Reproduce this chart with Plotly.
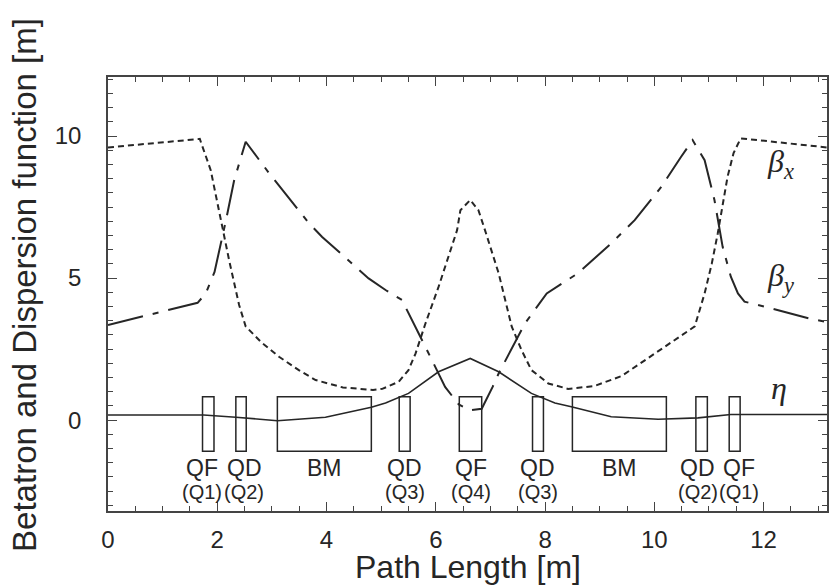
import plotly.graph_objects as go

# Lattice functions along one cell (path length s in metres)
s_beta_x = [0, 1.68, 1.88, 2.07, 2.22, 2.40, 2.52, 2.8, 3.13, 3.5, 3.8, 4.3, 4.85, 5.02,
            5.32, 5.5, 5.63, 5.81, 6.05, 6.39, 6.45, 6.63, 6.78, 6.9, 7.15, 7.39, 7.57,
            7.75, 8.06, 8.42, 8.9, 9.4, 9.88, 10.3, 10.74, 10.92, 11.05, 11.16, 11.34,
            11.45, 11.58, 13.16]
beta_x = [9.6, 9.9, 8.8, 7.0, 5.6, 4.05, 3.3, 2.75, 2.23, 1.75, 1.41, 1.15, 1.06, 1.1,
          1.35, 1.76, 2.35, 3.4, 4.69, 6.69, 7.39, 7.75, 7.39, 6.69, 5.17, 3.29, 2.46,
          1.76, 1.29, 1.1, 1.2, 1.55, 2.17, 2.7, 3.3, 4.46, 5.5, 6.57, 8.57,
          9.4, 9.92, 9.6]

s_beta_y = [0, 1.64, 1.79, 1.95, 2.16, 2.31, 2.52, 2.95, 3.68, 3.92, 4.77, 5.08, 5.38,
            5.63, 5.93, 6.17, 6.42, 6.63, 6.84, 7.04, 7.15, 7.63, 8.03, 8.6, 9.21, 9.64,
            9.94, 10.13, 10.49, 10.7, 10.92, 11.1, 11.25, 11.4, 11.53, 11.65, 12.01,
            12.83, 13.16]
beta_y = [3.35, 4.13, 4.46, 5.22, 7.04, 8.45, 9.8, 8.69, 6.93, 6.45, 4.99, 4.58, 4.23,
          3.29, 2.11, 1.17, 0.55, 0.35, 0.4, 1.17, 1.64, 3.4, 4.46, 5.17, 6.22, 7.04,
          7.75, 8.22, 9.27, 9.86, 9.15, 7.75, 6.1, 5.05, 4.46, 4.17, 4.0,
          3.58, 3.45]

s_eta = [0, 1.75, 2.34, 3.1, 3.98, 4.82, 5.08, 5.5, 6.05, 6.63, 7.15, 7.75, 8.18, 8.48,
         9.21, 10.07, 10.8, 11.4, 13.16]
eta = [0.18, 0.18, 0.1, -0.02, 0.1, 0.45, 0.6, 0.94, 1.7, 2.17, 1.7, 0.94, 0.6, 0.47,
       0.12, 0.03, 0.08, 0.2, 0.2]

# Magnet layout
magnet_type = ["QF", "QD", "BM", "QD", "QF", "QD", "BM", "QD", "QF"]
magnet_name = ["(Q1)", "(Q2)", "", "(Q3)", "(Q4)", "(Q3)", "", "(Q2)", "(Q1)"]
magnet_start = [1.73, 2.34, 3.10, 5.33, 6.43, 7.77, 8.50, 10.76, 11.37]
magnet_end = [1.94, 2.53, 4.82, 5.53, 6.84, 7.97, 10.22, 10.97, 11.57]

# horizontal nudges (px) so neighbouring quadrupole labels do not collide
label_nudge = [-6, 3, 0, 0, 0, 0, 0, -4, 4]

INK = "#262626"
SANS = "Liberation Sans, Arial, sans-serif"
SERIF = "Liberation Serif, Times New Roman, serif"

fig = go.Figure()
fig.add_trace(go.Scatter(x=s_beta_x, y=beta_x, mode="lines",
                         line=dict(color=INK, width=2, dash="6px,4px"),
                         showlegend=False))
fig.add_trace(go.Scatter(x=s_beta_y, y=beta_y, mode="lines",
                         line=dict(color=INK, width=2, dash="36px,10px,6px,10px"),
                         showlegend=False))
fig.add_trace(go.Scatter(x=s_eta, y=eta, mode="lines",
                         line=dict(color=INK, width=1.6),
                         showlegend=False))

# magnet boxes and their labels
box_top, box_bottom = 0.82, -1.1
for a, b, t, n, dx in zip(magnet_start, magnet_end, magnet_type, magnet_name, label_nudge):
    fig.add_shape(type="rect", xref="x", yref="y", x0=a, x1=b, y0=box_bottom, y1=box_top,
                  line=dict(color=INK, width=1.5), fillcolor="rgba(0,0,0,0)")
    c = (a + b) / 2
    fig.add_annotation(x=c, y=-1.69, xref="x", yref="y", text=t, showarrow=False,
                       xshift=dx, font=dict(family=SANS, size=23, color=INK),
                       xanchor="center", yanchor="middle")
    if n:
        fig.add_annotation(x=c, y=-2.54, xref="x", yref="y", text=n, showarrow=False,
                           xshift=dx, font=dict(family=SANS, size=20, color=INK),
                           xanchor="center", yanchor="middle")

# curve labels
for txt, xx, yy in [("<i>β</i><sub><i>x</i></sub>", 12.02, 9.05),
                    ("<i>β</i><sub><i>y</i></sub>", 12.02, 5.03),
                    ("<i>η</i>", 12.1, 1.13)]:
    fig.add_annotation(x=xx, y=yy, xref="x", yref="y", text=txt, showarrow=False,
                       font=dict(family=SERIF, size=32, color=INK),
                       xanchor="left", yanchor="middle")

# axis titles
fig.add_annotation(x=0.5, y=-0.176, xref="paper", yref="paper", text="Path Length [m]",
                   showarrow=False, font=dict(family=SANS, size=32, color=INK),
                   xanchor="center", yanchor="bottom")
fig.add_annotation(x=-0.116, y=0.52, xref="paper", yref="paper",
                   text="Betatron and Dispersion function [m]", textangle=-90,
                   showarrow=False, font=dict(family=SANS, size=33, color=INK),
                   xanchor="center", yanchor="middle")

axis_common = dict(showline=True, linecolor="#444", linewidth=1.5, mirror="allticks",
                   ticks="inside", ticklen=9, tickwidth=1.3, tickcolor="#444",
                   showgrid=False, zeroline=False,
                   tickfont=dict(family=SANS, size=24, color=INK))

fig.update_xaxes(range=[0, 13.16], tick0=0, dtick=2, ticklabelstandoff=6,
                 minor=dict(ticks="inside", ticklen=5, dtick=0.5, tick0=0,
                            tickcolor="#444", tickwidth=1.1, showgrid=False),
                 **axis_common)
fig.update_yaxes(range=[-3.2, 12.08], tick0=0, dtick=5, ticklabelstandoff=20,
                 minor=dict(ticks="inside", ticklen=5, dtick=0.5, tick0=0,
                            tickcolor="#444", tickwidth=1.1, showgrid=False),
                 **axis_common)

fig.update_layout(width=833, height=588, margin=dict(l=108, r=4, t=77, b=77),
                  plot_bgcolor="white", paper_bgcolor="white")

fig.write_html("out.html")
